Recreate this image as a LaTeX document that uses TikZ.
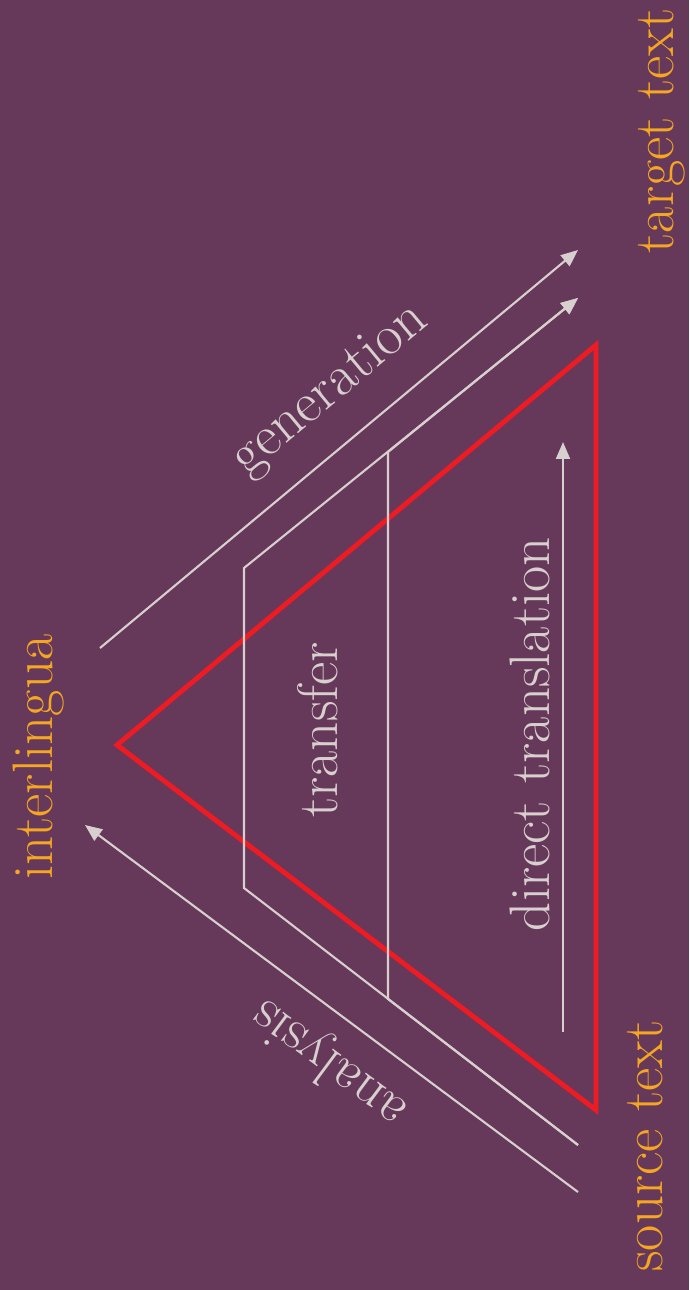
\documentclass[tikz,border=0pt]{standalone}
\usetikzlibrary{arrows.meta}

\definecolor{bgplum}{HTML}{663859}
\definecolor{labelorange}{HTML}{F5A623}
\definecolor{linegray}{HTML}{D8CFCF}
\definecolor{trired}{HTML}{ED1C24}

\begin{document}
\begin{tikzpicture}[
    x=0.02cm, y=-0.02cm,
    >={Triangle[length=0.34cm,width=0.28cm]},
    big/.style={font=\fontsize{32.5}{38}\selectfont},
    level/.style={big, text=labelorange, rotate=90, anchor=base},
    stage/.style={big, text=linegray},
    route/.style={draw=linegray, line width=1.2pt},
    flow/.style={route, ->},
    pyramid/.style={draw=trired, line width=2.8pt, line join=miter},
]

% ---- Canvas -------------------------------------------------------
\path[use as bounding box, fill=bgplum] (0,0) rectangle (689,1290);

% ---- Corner points ------------------------------------------------
\coordinate (apex)   at (117,745);
\coordinate (tgtcor) at (596,345);
\coordinate (srccor) at (596,1110);

\coordinate (genFrom) at (100,648);
\coordinate (genTo)   at (578,250);
\coordinate (anaFrom) at (578,1192);
\coordinate (anaTo)   at (85,825);

\coordinate (trfFrom) at (578,1145);
\coordinate (trfLow)  at (244,888);
\coordinate (trfUp)   at (244,568);
\coordinate (trfTo)   at (578,298);

\coordinate (dirLow) at (388,999);
\coordinate (dirUp)  at (388,452);
\coordinate (dirFrom) at (563,1032);
\coordinate (dirTo)   at (563,442);

% ---- Triangle -----------------------------------------------------
\draw[pyramid] (apex) -- (tgtcor) -- (srccor) -- cycle;

% ---- Routes -------------------------------------------------------
\draw[flow] (genFrom) -- node[stage, pos=0.55, sloped, anchor=base, yshift=0.75cm] (gen) {generation} (genTo);
\draw[flow] (anaFrom) -- node[stage, pos=0.45, sloped, allow upside down, anchor=base, yshift=0.62cm] (ana) {analysis} (anaTo);
\draw[flow] (trfFrom) -- (trfLow) -- (trfUp) -- (trfTo);
\draw[flow] (trfFrom) -- (dirLow) -- (dirUp) -- (trfTo);
\draw[flow] (dirFrom) -- (dirTo);

% ---- Labels -------------------------------------------------------
\node[level] (il)  at (52,757)  {interlingua};
\node[level] (tgt) at (673,131) {target text};
\node[level] (src) at (662,1146) {source text};
\node[stage, rotate=90, anchor=base] (trf) at (337,730) {transfer};
\node[stage, rotate=90, anchor=base] (dir) at (549,734) {direct translation};

\end{tikzpicture}
\end{document}
